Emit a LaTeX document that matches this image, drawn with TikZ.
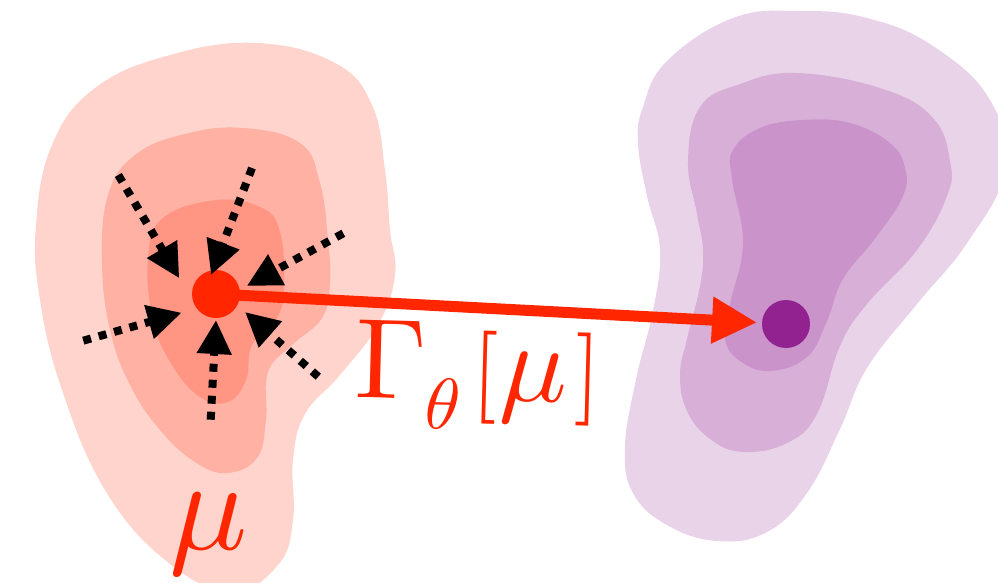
\documentclass[tikz,border=0pt]{standalone}
\usetikzlibrary{arrows.meta}
\DeclareFontShape{OML}{cmm}{m}{it}{<->cmmi10}{}
\DeclareFontShape{OT1}{cmr}{m}{n}{<->cmr10}{}
\DeclareFontShape{OMS}{cmsy}{m}{n}{<->cmsy10}{}
\DeclareFontShape{OMX}{cmex}{m}{n}{<->cmex10}{}
\definecolor{rdot}{RGB}{255,38,0}
\definecolor{pdot}{RGB}{146,34,144}
\newcommand{\fsz}[1]{\fontsize{#1}{#1}\selectfont}
\begin{document}
\begin{tikzpicture}[x=1pt,y=-1pt,
  redlayer/.style={fill=rdot, fill opacity=0.2, draw=none},
  purplayer/.style={fill=pdot, fill opacity=0.2, draw=none},
  dotnode/.style={circle, minimum size=48pt, inner sep=0pt, outer sep=0pt, draw=none},
  pullarrow/.style={draw=black, line width=8pt, dash pattern=on 8pt off 8pt,
    -{Triangle[length=34pt,width=33pt]}},
  maparrow/.style={draw=rdot, line width=11pt, -{Triangle[length=45pt,width=44pt]}},
  redtext/.style={text=rdot, inner sep=0pt}
]
\useasboundingbox (0,0) rectangle (998,583);

% left distribution (mu)
\fill[redlayer] plot[smooth cycle, tension=0.7] coordinates {
  (257,43) (335,63) (372,105) (385,170) (390,230) (395,275) (378,325) (340,375)
  (305,414) (293,460) (293,520) (278,565) (230,592) (165,560) (105,490) (62,390)
  (40,300) (36,225) (52,145) (95,88) (170,55)};
\fill[redlayer] plot[smooth cycle, tension=0.7] coordinates {
  (243,128) (300,143) (320,183) (328,240) (330,283) (322,318) (292,345) (268,372)
  (266,420) (257,458) (227,473) (195,462) (160,430) (130,385) (110,330) (102,262)
  (108,195) (135,155) (185,134)};
\fill[redlayer] plot[smooth cycle, tension=0.7] coordinates {
  (217,200) (262,208) (280,232) (284,285) (277,318) (252,345) (246,380) (228,402)
  (200,397) (172,365) (153,320) (148,258) (163,218)};

% right distribution
\fill[purplayer] plot[smooth cycle, tension=0.7] coordinates {
  (800,11) (867,18) (933,46) (990,100) (1005,170) (967,243) (917,304) (867,368)
  (840,429) (807,493) (767,532) (717,541) (667,525) (633,493) (625,446) (637,375)
  (653,311) (660,250) (647,196) (638,143) (643,107) (667,61) (733,18)};
\fill[purplayer] plot[smooth cycle, tension=0.7] coordinates {
  (797,73) (883,89) (933,118) (950,161) (947,196) (917,250) (867,304) (840,346)
  (817,414) (787,443) (743,452) (710,439) (687,411) (680,375) (687,339) (700,286)
  (703,250) (697,214) (688,161) (700,107) (740,84)};
\fill[purplayer] plot[smooth cycle, tension=0.7] coordinates {
  (803,120) (850,123) (890,143) (905,168) (903,196) (877,236) (843,279) (827,321)
  (807,357) (770,371) (740,361) (725,339) (730,304) (743,243) (732,179) (733,150)
  (760,128)};

% points
\node[dotnode, fill=rdot] (rd) at (216,294) {};
\node[dotnode, fill=pdot] (pd) at (786,324) {};

% map arrow
\draw[maparrow, shorten >=5pt] (rd.center) -- (pd);

% inward arrows
\coordinate (s1) at (118.3,175);   \coordinate (t1) at (179.3,278.3);
\coordinate (s2) at (252,168);     \coordinate (t2) at (211,275);
\coordinate (s3) at (343.3,233.3); \coordinate (t3) at (246.7,286);
\coordinate (s4) at (83.3,340.7);  \coordinate (t4) at (181.7,312.7);
\coordinate (s5) at (210.7,419.7); \coordinate (t5) at (216,320);
\coordinate (s6) at (318.3,376.7); \coordinate (t6) at (245,312);
\foreach \i in {1,...,6} { \draw[pullarrow] (s\i) -- (t\i); }

% labels
\node[redtext, font=\fsz{130}, anchor=base] (mu) at (209,549) {$\mu$};
\node[redtext, anchor=base west, rotate=-1.5] (lbl) at (354,397)
  {{\fsz{114}$\Gamma$}\lower30pt\hbox{\fsz{72}$\theta$}\kern10pt{\fsz{93}$[$}\kern2pt{\fsz{112}$\mu$}\kern8pt{\fsz{93}$]$}};
\end{tikzpicture}
\end{document}
